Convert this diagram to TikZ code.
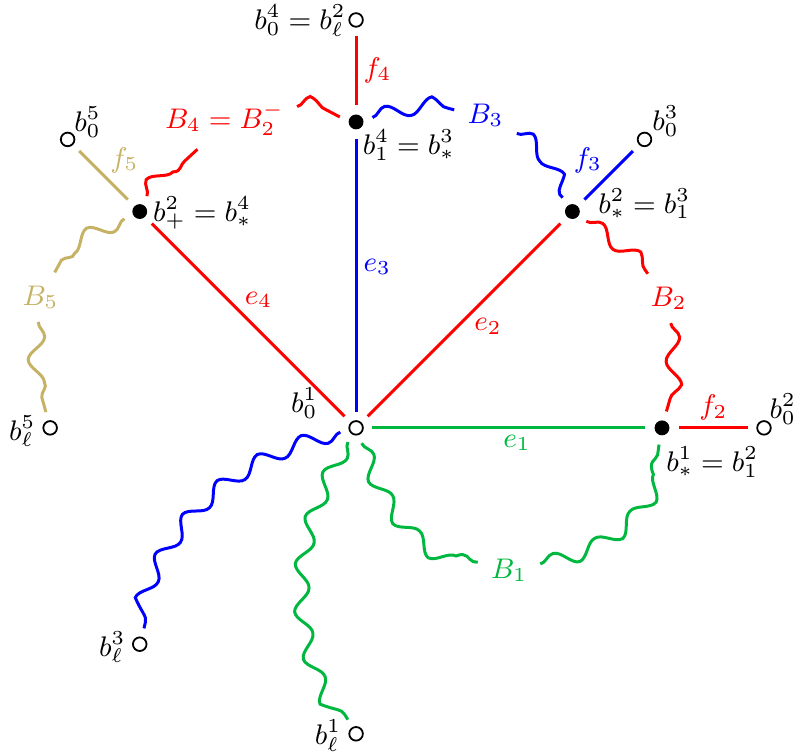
\documentclass[tikz,border=0pt]{standalone}
\usepackage{fix-cm}
\usetikzlibrary{decorations.pathmorphing}

\begin{document}
\begin{tikzpicture}[line width=1pt,font=\fontsize{9.5}{11}\selectfont,
  dot/.style={circle,fill,inner sep=0pt,minimum size=1.75mm,outer sep=3.2pt},
  hole/.style={circle,draw,line width=0.6pt,inner sep=0pt,minimum size=1.6mm,outer sep=3.2pt},
  wave/.style={decorate,decoration={snake,amplitude=0.9mm,segment length=5.5mm}},
  blab/.style={inner sep=4pt},
  elab/.style={inner sep=2pt}]
\definecolor{lgreen}{RGB}{0,184,64}
\definecolor{olivetan}{RGB}{198,178,100}
\useasboundingbox (-4.19,-3.835) rectangle (5.165,5.035);
% Hub at the origin; spokes of length 3.6, leaves 1.2 further out.
\node[hole] (b01) at (0,0) {};
\node[dot] (s1) at (0:3.6) {};
\node[dot] (s2) at (45:3.6) {};
\node[dot] (s3) at (90:3.6) {};
\node[dot] (s4) at (135:3.6) {};
\node[hole] (b02) at (0:4.8) {};
\node[hole] (b03) at (45:4.8) {};
\node[hole] (b04) at (90:4.8) {};
\node[hole] (b05) at (135:4.8) {};
\node[hole] (bl5) at (180:3.6) {};
\node[hole] (bl3) at (225:3.6) {};
\node[hole] (bl1) at (270:3.6) {};

\node (t01) at (-0.61,0.29) {$b^1_0$};
\node (t04) at (-0.66,4.79) {$b^4_0=b^2_\ell$};
\node (t3) at (0.62,3.33) {$b^4_1=b^3_*$};
\node (t2) at (3.39,2.64) {$b^2_*=b^3_1$};
\node (t03) at (3.64,3.61) {$b^3_0$};
\node (t02) at (5.02,0.22) {$b^2_0$};
\node (t1) at (4.19,-0.40) {$b^1_*=b^2_1$};
\node (t4) at (-1.81,2.53) {$b^2_+=b^4_*$};
\node (t05) at (-3.16,3.60) {$b^5_0$};
\node (tl5) at (-3.93,-0.04) {$b^5_\ell$};
\node (tl3) at (-2.87,-2.58) {$b^3_\ell$};
\node (tl1) at (-0.33,-3.62) {$b^1_\ell$};

\draw[lgreen] (b01) -- node[elab,pos=.53,below] {$e_1$} (s1);
\draw[red] (b01) -- node[pos=.53,below right,inner sep=1pt] {$e_2$} (s2);
\draw[blue] (b01) -- node[elab,pos=.53,right] {$e_3$} (s3);
\draw[red] (b01) -- node[pos=.54,above right,inner sep=1pt] {$e_4$} (s4);
\draw[red] (s1) -- node[elab,above] {$f_2$} (b02);
\draw[blue] (s2) -- node[pos=.45,above left,inner sep=1pt] {$f_3$} (b03);
\draw[red] (s3) -- node[elab,right] {$f_4$} (b04);
\draw[olivetan] (s4) -- node[pos=.45,above right,inner sep=1pt] {$f_5$} (b05);

% Wavy branches, each broken by its label.
\node[blab,lgreen] (B1) at (1.80,-1.68) {$B_1$};
\node[blab,red] (B2) at (22.5:3.98) {$B_2$};
\node[blab,blue] (B3) at (67.5:3.98) {$B_3$};
\node[blab,red] (B4) at (-1.55,3.63) {$B_4=B_2^-$};
\node[blab,olivetan] (B5) at (157.5:4.02) {$B_5$};
\draw[lgreen,wave] (b01) to[out=-70,in=165] (B1);
\draw[lgreen,wave] (B1) to[out=12,in=-100] (s1);
\draw[red,wave] (s2) to[out=-35,in=130] (B2);
\draw[red,wave] (B2) to[out=-85,in=75] (s1);
\draw[blue,wave] (s3) to[out=15,in=170] (B3);
\draw[blue,wave] (B3) to[out=-30,in=125] (s2);
\draw[red,wave] (s4) to[out=65,in=228] (B4);
\draw[red,wave] (B4) to[out=10,in=163] (s3);
\draw[olivetan,wave] (s4) to[out=205,in=60] (B5);
\draw[olivetan,wave] (B5) to[out=-95,in=105] (bl5);
\draw[blue,wave] (b01) to[out=195,in=75] (bl3);
\draw[lgreen,wave] (b01) to[out=240,in=120] (bl1);
\end{tikzpicture}
\end{document}
